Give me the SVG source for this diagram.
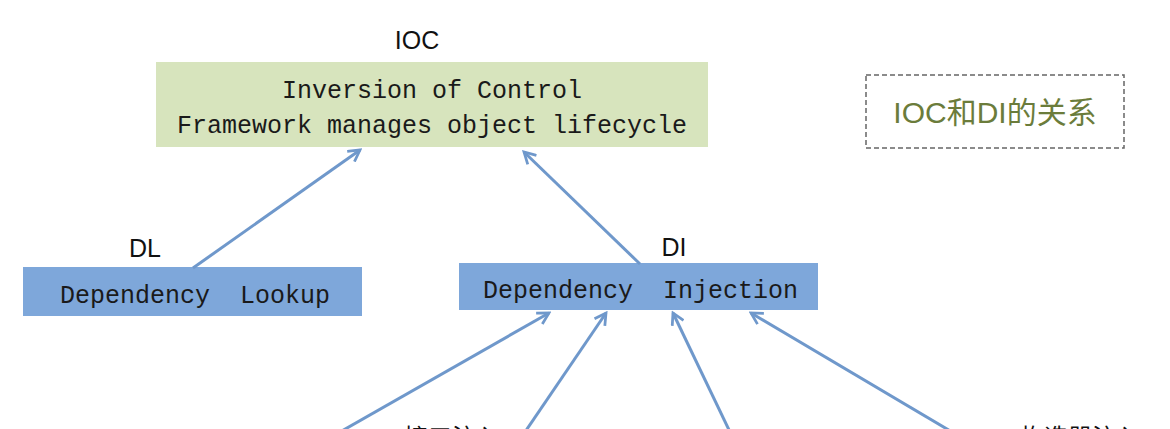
<svg xmlns="http://www.w3.org/2000/svg" width="1170" height="429" viewBox="0 0 1170 429">
<defs>
<style>
.lbl{font-family:"Liberation Sans","Noto Sans CJK SC",sans-serif;font-size:25px;fill:#111}
.mono{font-family:"Liberation Mono","DejaVu Sans Mono",monospace;font-size:25px;fill:#1a1a1a}
.cn{font-family:"Liberation Sans","Noto Sans CJK SC",sans-serif;font-size:24px;fill:#111}
.conn{stroke:#6f98cb;stroke-width:3;fill:none;marker-end:url(#arr)}
</style>
<marker id="arr" viewBox="0 0 12 12" refX="10" refY="6" markerWidth="5" markerHeight="5" orient="auto" markerUnits="strokeWidth">
<path d="M1,1 L10,6 L1,11" fill="none" stroke="#6f98cb" stroke-width="2.2"/>
</marker>
</defs>
<rect width="1170" height="429" fill="#ffffff"/>
<g id="ioc">
<text class="lbl" x="417" y="49" text-anchor="middle">IOC</text>
<rect x="156" y="62" width="552" height="85" fill="#d7e4bd"/>
<text class="mono" x="432" y="98" text-anchor="middle">Inversion of Control</text>
<text class="mono" x="432" y="133" text-anchor="middle">Framework manages object lifecycle</text>
</g>
<g id="title">
<rect x="866" y="75" width="258" height="73" fill="none" stroke="#666" stroke-width="1.5" stroke-dasharray="5,3"/>
<text x="995" y="123" text-anchor="middle" style="font-family:'Liberation Sans','Noto Sans CJK SC',sans-serif;font-size:30px;fill:#6b7c3b">IOC和DI的关系</text>
</g>
<g id="dl">
<text class="lbl" x="145" y="257" text-anchor="middle">DL</text>
<rect x="23" y="267" width="339" height="49" fill="#7ea7da"/>
<text class="mono" x="60" y="303" xml:space="preserve">Dependency  Lookup</text>
</g>
<g id="di">
<text class="lbl" x="674" y="256" text-anchor="middle">DI</text>
<rect x="459" y="263" width="359" height="47" fill="#7ea7da"/>
<text class="mono" x="483" y="298" xml:space="preserve">Dependency  Injection</text>
</g>
<g id="interface-injection">
<text class="cn" x="452" y="446" text-anchor="middle">接口注入</text>
</g>
<g id="constructor-injection">
<text class="cn" x="1080" y="446" text-anchor="middle">构造器注入</text>
</g>
<g id="connectors">
<line class="conn" x1="193" y1="268" x2="360" y2="150"/>
<line class="conn" x1="640" y1="264" x2="524" y2="152"/>
<line class="conn" x1="340" y1="432" x2="549" y2="313"/>
<line class="conn" x1="525" y1="432" x2="606" y2="313"/>
<line class="conn" x1="730" y1="432" x2="673" y2="313"/>
<line class="conn" x1="952" y1="432" x2="751" y2="313"/>
</g>
</svg>
